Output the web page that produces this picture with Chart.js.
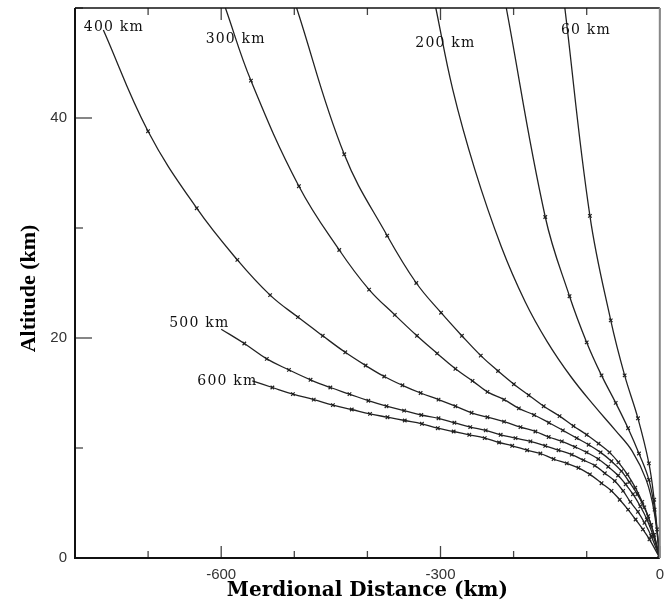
<!DOCTYPE html>
<html>
<head>
<meta charset="utf-8">
<title>Altitude vs Merdional Distance</title>
<script src="https://cdn.jsdelivr.net/npm/chart.js@4.4.0/dist/chart.umd.min.js"></script>
<style>
    body { margin: 0; background: #fff; }
    #wrap { width: 665px; height: 603px; }
</style>
</head>
<body>
<div id="wrap"><canvas id="altChart" width="665" height="603"></canvas></div>
<script>
// axis ticks (km)
const xLabelTicks = [-600, -300, 0];
const yLabelTicks = [0, 20, 40];

// curves: meridional distance (km) / altitude (km)
const c60X = [-129.9, -95.6, -67.1, -48.1, -29.9, -14.9, -7.7, -3.7, 0];
const c60Y = [50.0, 31.1, 21.6, 16.6, 12.7, 8.6, 5.3, 2.6, 0];

const cUnlabA_X = [-210.0, -156.7, -123.5, -100.0, -79.7, -60.3, -43.4, -28.5, -14.9, -7.1, 0];
const cUnlabA_Y = [50.0, 31.0, 23.8, 19.6, 16.6, 14.1, 11.8, 9.5, 7.1, 4.4, 0];

const c200X = [-306.4, -283.3, -253.4, -216.8, -184.2, -154.3, -121.8, -89.2, -60.7, -37.6, -18.6, -7.7, 0];
const c200Y = [50.0, 42.6, 35.4, 28.3, 23.3, 19.7, 16.5, 13.8, 11.6, 9.7, 7.1, 4.2, 0];

const cUnlabB_X = [-496.8, -431.7, -372.9, -333.1, -299.2, -270.7, -244.9, -221.3, -199.6, -179.2, -158.8, -137.1,
    -118.1, -100.0, -83.8, -68.8, -56.6, -44.4, -33.5, -24.0, -15.9, -7.7, 0];
const cUnlabB_Y = [50.0, 36.7, 29.3, 25.0, 22.3, 20.2, 18.4, 17.0, 15.8, 14.8, 13.8, 12.9,
    12.0, 11.2, 10.4, 9.6, 8.7, 7.6, 6.4, 5.1, 3.8, 2.1, 0];

const c300X = [-594.2, -559.3, -493.7, -438.5, -397.7, -362.5, -332.2, -304.6, -279.6, -256.2, -235.8, -213.1,
    -192.8, -172.0, -151.6, -132.6, -113.6, -97.3, -81.0, -66.1, -52.5, -41.7, -30.8, -21.3, -11.8, 0];
const c300Y = [50.0, 43.4, 33.8, 28.0, 24.4, 22.1, 20.2, 18.6, 17.2, 16.1, 15.1, 14.4,
    13.6, 13.0, 12.3, 11.6, 10.9, 10.3, 9.6, 8.8, 7.9, 6.9, 5.8, 4.6, 3.0, 0];

const c400X = [-761.2, -700.1, -633.5, -577.9, -533.1, -495.1, -461.1, -430.3, -402.4, -377.0, -352.1, -327.2,
    -302.7, -279.6, -257.5, -235.8, -213.1, -190.6, -170.2, -152.0, -134.0, -115.9, -100.0, -84.2,
    -70.6, -57.0, -46.7, -36.7, -26.7, -17.6, -9.5, 0];
const c400Y = [48.0, 38.8, 31.8, 27.1, 23.9, 21.9, 20.2, 18.7, 17.5, 16.5, 15.7, 15.0,
    14.4, 13.8, 13.2, 12.8, 12.4, 11.9, 11.5, 11.0, 10.6, 10.1, 9.6, 9.0,
    8.3, 7.5, 6.7, 5.8, 4.7, 3.5, 2.1, 0];

const c500X = [-600.0, -568.4, -537.6, -507.3, -477.8, -450.7, -424.5, -398.7, -373.9, -349.8, -326.3, -302.7,
    -281.0, -259.3, -238.1, -217.7, -197.4, -177.0, -156.7, -138.5, -120.4, -104.5, -88.8, -75.2,
    -61.6, -50.2, -40.3, -29.9, -20.9, -11.8, 0];
const c500Y = [20.8, 19.5, 18.1, 17.1, 16.2, 15.5, 14.9, 14.3, 13.8, 13.4, 13.0, 12.7,
    12.3, 11.9, 11.6, 11.2, 10.9, 10.6, 10.2, 9.8, 9.4, 8.9, 8.4, 7.7,
    7.0, 6.1, 5.1, 4.2, 3.2, 2.0, 0];

const c600X = [-557.5, -530.0, -501.9, -473.4, -447.2, -421.4, -396.4, -372.5, -348.9, -325.4, -303.7, -282.0,
    -260.6, -239.5, -219.9, -201.9, -181.5, -163.4, -145.3, -127.2, -111.3, -95.6, -79.7, -66.1,
    -54.8, -43.4, -33.1, -23.1, -14.1, 0];
const c600Y = [16.1, 15.5, 14.9, 14.4, 13.9, 13.5, 13.1, 12.8, 12.5, 12.2, 11.8, 11.5,
    11.2, 10.9, 10.5, 10.2, 9.8, 9.5, 9.0, 8.6, 8.2, 7.6, 6.8, 6.1,
    5.3, 4.4, 3.5, 2.6, 1.7, 0];

// curve labels: text and anchor (left end / baseline) in data units
const curveLabelText = ['400 km', '300 km', '200 km', '60 km', '500 km', '600 km'];
const curveLabelX = [-787.9, -621.3, -334.5, -135.3, -671.1, -632.6];
const curveLabelY = [47.9, 46.8, 46.5, 47.6, 21.0, 15.7];

function toPoints(xs, ys) {
    return xs.map((v, i) => ({x: v, y: ys[i]}));
}

function curve(name, xs, ys, marked) {
    return {
        label: name,
        data: toPoints(xs, ys),
        borderColor: '#222',
        borderWidth: 1.3,
        backgroundColor: '#222',
        pointStyle: 'crossRot',
        pointBorderColor: '#222',
        pointBorderWidth: 1.2,
        // first point is where the curve enters / starts, no marker there
        pointRadius: ctx => (!marked || ctx.dataIndex === 0) ? 0 : 2.5,
        tension: 0.4,
        fill: false
    };
}

const framePlugin = {
    id: 'frame',
    afterDraw(chart) {
        const {ctx, chartArea: a, scales: {x, y}} = chart;
        ctx.save();
        const seg = (x1, y1, x2, y2) => {
            ctx.beginPath();
            ctx.moveTo(x1, y1);
            ctx.lineTo(x2, y2);
            ctx.stroke();
        };
        // inward ticks
        ctx.strokeStyle = '#444';
        ctx.lineWidth = 1.3;
        x.ticks.forEach(t => {
            const px = x.getPixelForValue(t.value);
            const len = xLabelTicks.includes(t.value) ? 12 : 7;
            seg(px, a.bottom, px, a.bottom - len);
            seg(px, a.top, px, a.top + len);
        });
        y.ticks.forEach(t => {
            const py = y.getPixelForValue(t.value);
            const len = yLabelTicks.includes(t.value) ? 17 : 8;
            seg(a.left, py, a.left + len, py);
        });
        // frame
        ctx.strokeStyle = '#111';
        ctx.lineWidth = 2;
        seg(a.left, a.top, a.left, a.bottom + 1);
        seg(a.left - 1, a.bottom, a.right, a.bottom);
        ctx.lineWidth = 1.5;
        seg(a.left, a.top, a.right, a.top);
        ctx.strokeStyle = '#888';
        ctx.lineWidth = 2;
        seg(a.right, a.top, a.right, a.bottom);
        ctx.restore();
    }
};

const curveLabelPlugin = {
    id: 'curveLabels',
    afterDatasetsDraw(chart) {
        const {ctx, scales: {x, y}} = chart;
        ctx.save();
        ctx.font = '14px "DejaVu Serif"';
        ctx.letterSpacing = '1.2px';
        ctx.fillStyle = '#111';
        ctx.textAlign = 'left';
        ctx.textBaseline = 'alphabetic';
        curveLabelText.forEach((txt, i) => {
            ctx.fillText(txt, x.getPixelForValue(curveLabelX[i]), y.getPixelForValue(curveLabelY[i]));
        });
        ctx.restore();
    }
};

const tickFont = {family: '"Liberation Sans", Arial, sans-serif', size: 15};

new Chart(document.getElementById('altChart'), {
    type: 'line',
    data: {
        datasets: [
            curve('60 km', c60X, c60Y, true),
            curve('', cUnlabA_X, cUnlabA_Y, true),
            curve('200 km', c200X, c200Y, false),
            curve('', cUnlabB_X, cUnlabB_Y, true),
            curve('300 km', c300X, c300Y, true),
            curve('400 km', c400X, c400Y, true),
            curve('500 km', c500X, c500Y, true),
            curve('600 km', c600X, c600Y, true)
        ]
    },
    options: {
        responsive: false,
        animation: false,
        devicePixelRatio: 1,
        layout: {padding: {top: 8, right: 1.3, left: 0, bottom: 0}},
        plugins: {legend: {display: false}, tooltip: {enabled: false}},
        scales: {
            x: {
                type: 'linear',
                min: -800,
                max: 0,
                grid: {display: false, drawTicks: false},
                border: {display: false},
                ticks: {
                    stepSize: 100,
                    autoSkip: false,
                    maxRotation: 0,
                    padding: 8,
                    color: '#333',
                    font: tickFont,
                    callback: v => xLabelTicks.includes(v) ? String(v) : ''
                },
                title: {
                    display: true,
                    text: 'Merdional Distance (km)',
                    color: '#000',
                    font: {family: '"DejaVu Serif", serif', size: 20, weight: 'bold'},
                    padding: {top: 0, bottom: 0}
                },
                afterFit: s => { s.height = 45; s.paddingLeft = 0; s.paddingRight = 0; }
            },
            y: {
                type: 'linear',
                min: 0,
                max: 50,
                grid: {display: false, drawTicks: false},
                border: {display: false},
                ticks: {
                    stepSize: 10,
                    autoSkip: false,
                    padding: 8,
                    color: '#333',
                    font: tickFont,
                    callback: v => yLabelTicks.includes(v) ? String(v) : ''
                },
                title: {
                    display: true,
                    text: 'Altitude (km)  ',
                    color: '#000',
                    font: {family: '"Liberation Serif", "Times New Roman", serif', size: 22, weight: 'bold'},
                    padding: {top: 16, bottom: 0}
                },
                afterFit: s => { s.width = 75; s.paddingTop = 0; s.paddingBottom = 0; }
            }
        }
    },
    plugins: [curveLabelPlugin, framePlugin]
});
</script>
</body>
</html>
